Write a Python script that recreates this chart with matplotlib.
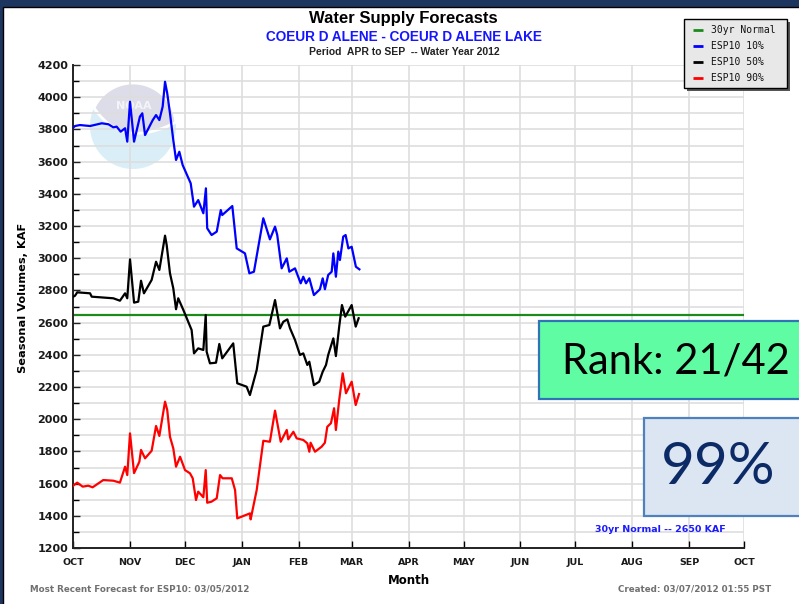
import numpy as np
import pandas as pd
import matplotlib
matplotlib.use("Agg")
import matplotlib.pyplot as plt
import matplotlib.dates as mdates
from matplotlib.patches import Rectangle, Circle, Polygon
from matplotlib.ticker import MultipleLocator, FuncFormatter

# --- forecast traces (days after 1 Oct 2011, KAF) ---
wy_start = pd.Timestamp("2011-10-01")
wy_end = pd.Timestamp("2012-10-01")

esp10_days = [0, 1.1, 3.8, 9.3, 15.7, 19.3, 22, 23.8, 26, 28.4, 29.6, 31.1, 33.3, 36.5, 37.8,
              39.3, 43.5, 45.3, 47.1, 48.9, 50.2, 51.4, 52.9, 54.7, 56.2, 58, 59.8, 64.2, 66,
              68.3, 71.1, 72.5, 73.2, 75.6, 78.4, 80.6, 81.4, 86.9, 89.3, 93.8, 96.2, 98.7,
              103.8, 107.4, 110.2, 111.4, 113.8, 116.6, 118, 121.1, 124.2, 125.6, 127.1, 128.9,
              131.4, 134.7, 136.2, 137.4, 139.2, 141.1, 142, 143.4, 144.7, 145.6, 147.4, 148.7,
              150.2, 152, 154.3, 156.2]
esp10_vals = [3810, 3821, 3827, 3821, 3838, 3832, 3813, 3817, 3786, 3807, 3724, 3972, 3724, 3879, 3900,
              3765, 3858, 3889, 3858, 3941, 4096, 4024, 3900, 3734, 3610, 3661, 3579, 3465, 3320,
              3361, 3279, 3434, 3186, 3144, 3165, 3299, 3268, 3324, 3061, 3030, 2906, 2916,
              3248, 3117, 3196, 3144, 2937, 2999, 2916, 2937, 2844, 2885, 2844, 2875,
              2771, 2807, 2875, 2807, 2896, 2916, 3030, 2885, 3041, 2989, 3134, 3144,
              3061, 3071, 2947, 2931]

esp50_days = [0, 1.1, 2.3, 9.3, 10.2, 22, 25.6, 28.4, 29.6, 31.1, 33.3, 35.6, 37.1, 38.7, 42.9,
              45.3, 47.1, 50.2, 51.1, 52.9, 54.7, 56.2, 57.4, 60.2, 64.7, 66, 68.3, 71.1, 72.4,
              72.9, 74.7, 78, 79.8, 81.4, 87.4, 89.6, 94.7, 96.5, 100.2, 103.8, 107.1, 110.2,
              112.9, 114.7, 116.9, 118.4, 121.1, 123.8, 125.6, 127.8, 128.9, 131.4, 134.3, 136.2,
              138, 139.2, 142, 143.4, 145.2, 146.7, 148.5, 152, 154.2, 155.8]
esp50_vals = [2760, 2767, 2788, 2782, 2761, 2751, 2736, 2782, 2751, 2993, 2724, 2730, 2860, 2782, 2865,
              2978, 2927, 3140, 3082, 2906, 2813, 2683, 2751, 2678, 2554, 2409, 2440, 2430, 2647,
              2419, 2347, 2351, 2467, 2378, 2471, 2223, 2202, 2150, 2306, 2575, 2585, 2740,
              2564, 2605, 2620, 2564, 2492, 2399, 2409, 2337, 2357, 2212, 2233, 2295,
              2337, 2399, 2502, 2392, 2575, 2709, 2637, 2709, 2575, 2627]

esp90_days = [0, 0.5, 2.3, 5.3, 8.3, 10.7, 16.5, 22, 25.6, 28.4, 29.6, 31.1, 33.3, 36.2, 37.1,
              39.3, 42.9, 45.3, 47.1, 50.2, 51.4, 52.9, 54.7, 56.2, 58.4, 61.1, 63.8, 65.3, 67.1,
              68.3, 71.1, 72.4, 73.2, 75.6, 78.4, 80.2, 81.6, 86.6, 88.4, 89.6, 96.5, 96.9,
              100.2, 103.8, 107.4, 110.2, 113.3, 116.6, 117.4, 120.2, 122, 125.6, 127.8, 128.9,
              129.6, 132, 135.6, 137.4, 138.7, 140.7, 142.4, 143.4, 145.2, 147.1, 148.9, 152,
              154.2, 156]
esp90_vals = [1585, 1591, 1606, 1581, 1587, 1577, 1622, 1618, 1606, 1705, 1653, 1912, 1665, 1736, 1809,
              1757, 1804, 1958, 1896, 2109, 2057, 1891, 1819, 1705, 1767, 1684, 1664, 1633, 1498,
              1550, 1515, 1684, 1481, 1488, 1509, 1653, 1633, 1633, 1560, 1384, 1415, 1378,
              1560, 1866, 1860, 2053, 1860, 1933, 1875, 1922, 1881, 1871, 1850, 1798,
              1854, 1798, 1829, 1854, 1953, 1975, 2068, 1933, 2119, 2285, 2161, 2233,
              2088, 2156]

normal_30yr = 2650
rank_text = "Rank: 21/42"
pct_text = "99%"

series = [("ESP10 10%", esp10_days, esp10_vals, "#0000ff"),
          ("ESP10 50%", esp50_days, esp50_vals, "#000000"),
          ("ESP10 90%", esp90_days, esp90_vals, "#ff0000")]
legend_items = [("30yr Normal", "#1e8a1e")] + [(n, c) for n, _, _, c in series]

W, H = 799, 604
fig = plt.figure(figsize=(W / 100, H / 100), dpi=100, facecolor="#1c3660")

# background layer in pixel coordinates: frame, white sheet, faded logo
bg = fig.add_axes([0, 0, 1, 1], zorder=0)
bg.set_xlim(0, W)
bg.set_ylim(H, 0)
bg.axis("off")
bg.add_patch(Rectangle((3, 7), W + 10, H + 10, facecolor="white", edgecolor="black", lw=1))

cx, cy, r = 133, 126, 43
bg.add_patch(Circle((cx, cy), r, facecolor="#d9eef7", edgecolor="none"))
th = np.linspace(np.radians(155), np.radians(5), 40)
arc = np.column_stack([cx + r * np.cos(th), cy - r * np.sin(th)])
t = np.linspace(0, 1, 30)
p0, p1, p2 = arc[-1], np.array([122, 150]), arc[0]
wing = ((1 - t) ** 2)[:, None] * p0 + (2 * (1 - t) * t)[:, None] * p1 + (t ** 2)[:, None] * p2
bg.add_patch(Polygon(np.vstack([arc, wing]), closed=True, facecolor="#dcdde8", edgecolor="white", lw=2))
bg.text(cx + 1, 106, "NOAA", color="#f4f4f8", fontsize=8, fontweight="bold", ha="center", va="center")

# main chart
ax = fig.add_axes([73 / W, (H - 548) / H, 671 / W, 483 / H], zorder=1)
ax.patch.set_visible(False)

for name, d, v, c in series:
    x = wy_start + pd.to_timedelta(np.array(d), unit="D")
    ax.plot(x, v, color=c, lw=1.6, label=name, zorder=3)
ax.axhline(normal_30yr, color="#1e8a1e", lw=1.6, zorder=2)

ax.set_xlim(wy_start, wy_end)
ax.set_ylim(1200, 4200)
ax.xaxis.set_major_locator(mdates.MonthLocator())
ax.xaxis.set_major_formatter(FuncFormatter(lambda x, pos: mdates.num2date(x).strftime("%b").upper()))
ax.yaxis.set_major_locator(MultipleLocator(200))
ax.yaxis.set_minor_locator(MultipleLocator(100))
ax.grid(True, which="both", color="#dedede", lw=1.2, zorder=0)
ax.set_axisbelow(True)

for s in ["top", "right"]:
    ax.spines[s].set_visible(False)
for s in ["left", "bottom"]:
    ax.spines[s].set_linewidth(1.4)
    ax.spines[s].set_color("#222222")

ax.tick_params(axis="y", which="major", direction="in", length=5, width=1, pad=3.5,
               labelsize=8, colors="#222222")
ax.tick_params(axis="y", which="minor", direction="in", length=4, width=1)
ax.tick_params(axis="x", direction="in", length=5, width=1, pad=7.5, labelsize=6.8)
for lab in ax.get_yticklabels() + ax.get_xticklabels():
    lab.set_fontweight("bold")
    lab.set_color("#1a1a1a")

ax.set_xlabel("Month", fontsize=8.5, fontweight="bold", va="center")
ax.xaxis.set_label_coords(0.5, -(581 - 548) / 483)
ax.set_ylabel("Seasonal Volumes, KAF", fontsize=8.2, fontweight="bold", va="center")
ax.yaxis.set_label_coords(-(73 - 23) / 671, 0.517)

ax.text(0.9735, (548 - 529) / 483, "30yr Normal -- 2650 KAF", transform=ax.transAxes,
        ha="right", va="center", fontsize=6.8, fontweight="bold", color="#1a1aff")

# titles
fig.text(403 / W, 1 - 18 / H, "Water Supply Forecasts", ha="center", va="center",
         fontsize=12, fontweight="bold", family="Liberation Sans")
fig.text(404 / W, 1 - 37 / H, "COEUR D ALENE - COEUR D ALENE LAKE", ha="center", va="center",
         fontsize=9.8, fontweight="bold", family="Liberation Sans", color="#1515ff")
fig.text(404 / W, 1 - 52 / H, "Period  APR to SEP  -- Water Year 2012", ha="center", va="center",
         fontsize=7.5, fontweight="bold", family="Liberation Sans", color="#222222")

fig.text(30 / W, 1 - 589 / H, "Most Recent Forecast for ESP10: 03/05/2012", ha="left", va="center",
         fontsize=6.3, fontweight="bold", color="#707070")
fig.text(771 / W, 1 - 589 / H, "Created: 03/07/2012 01:55 PST", ha="right", va="center",
         fontsize=6.3, fontweight="bold", color="#707070")

# overlay layer: legend box and the two callouts
fg = fig.add_axes([0, 0, 1, 1], zorder=3)
fg.set_xlim(0, W)
fg.set_ylim(H, 0)
fg.axis("off")

fg.add_patch(Rectangle((687, 22), 103, 69, facecolor="#555555", edgecolor="none"))
fg.add_patch(Rectangle((684, 19), 103, 69, facecolor="#e8e8e8", edgecolor="black", lw=1))
for i, (name, c) in enumerate(legend_items):
    yy = 30 + 16 * i
    fg.plot([693, 703], [yy, yy], color=c, lw=2, solid_capstyle="butt")
    fg.text(711, yy, name, family="DejaVu Sans Mono", fontsize=7, ha="left", va="center", color="#111111")

fg.add_patch(Rectangle((539, 321), 280, 78, facecolor="#5ffca4", edgecolor="#2f75b5", lw=1.6))
fg.text(676, 361, rank_text, family="Lato", fontsize=30, ha="center", va="center", color="black")
fg.add_patch(Rectangle((644, 418), 180, 98, facecolor="#dce6f2", edgecolor="#4f81bd", lw=1.6))
fg.text(718, 468, pct_text, family="Lato", fontsize=42, ha="center", va="center", color="#0c2a66")

fig.savefig("out.png", dpi=100, facecolor=fig.get_facecolor())
